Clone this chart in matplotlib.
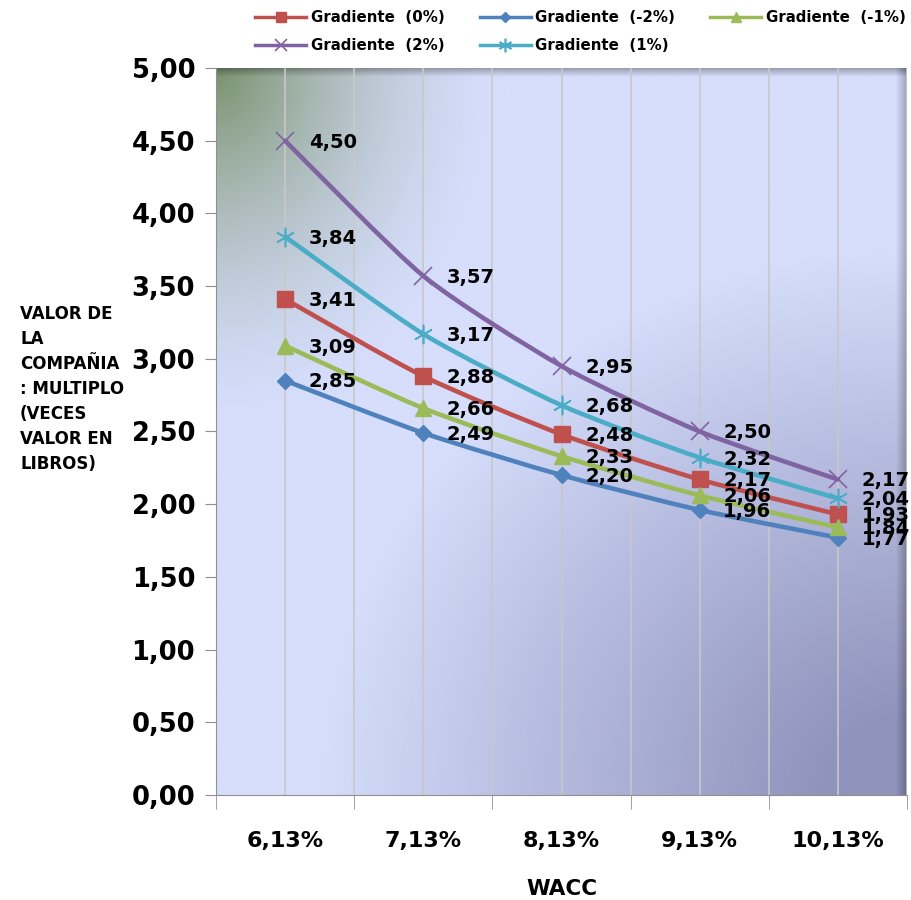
import numpy as np
import matplotlib.pyplot as plt
from matplotlib.path import Path
from matplotlib.patches import PathPatch
from matplotlib.lines import Line2D

plt.rcParams['font.family'] = ['DejaVu Sans']
plt.rcParams['font.weight'] = 'bold'

# WACC scenarios and book-value multiples per growth gradient
wacc = ["6,13%", "7,13%", "8,13%", "9,13%", "10,13%"]
g_0 = [3.41, 2.88, 2.48, 2.17, 1.93]
g_m2 = [2.85, 2.49, 2.20, 1.96, 1.77]
g_m1 = [3.09, 2.66, 2.33, 2.06, 1.84]
g_p2 = [4.50, 3.57, 2.95, 2.50, 2.17]
g_p1 = [3.84, 3.17, 2.68, 2.32, 2.04]

series = [
    ("Gradiente  (0%)", g_0, "#c0504d", "s", 11),
    ("Gradiente  (-2%)", g_m2, "#4f81bd", "D", 8),
    ("Gradiente  (-1%)", g_m1, "#9bbb59", "^", 11),
    ("Gradiente  (2%)", g_p2, "#8064a2", "x", 13),
    ("Gradiente  (1%)", g_p1, "#4bacc6", (6, 2, 0), 14),
]


def smooth_path(x, y, k=1 / 9):
    # cubic bezier through the points (catmull-rom style handles)
    verts = [(x[0], y[0])]
    codes = [Path.MOVETO]
    n = len(x)
    for i in range(n - 1):
        x0, y0 = (x[i - 1], y[i - 1]) if i > 0 else (x[i], y[i])
        x3, y3 = (x[i + 2], y[i + 2]) if i + 2 < n else (x[i + 1], y[i + 1])
        c1 = (x[i] + (x[i + 1] - x0) * k, y[i] + (y[i + 1] - y0) * k)
        c2 = (x[i + 1] - (x3 - x[i]) * k, y[i + 1] - (y3 - y[i]) * k)
        verts += [c1, c2, (x[i + 1], y[i + 1])]
        codes += [Path.CURVE4] * 3
    return Path(verts, codes)


fig = plt.figure(figsize=(9.11, 9.0), dpi=100)
ax = fig.add_axes([216 / 911, 1 - 795 / 900, 691 / 911, 727 / 900])

# background fill: light blue, greenish glow top-left, dusky blue bottom-right
h, w = 400, 400
r, c = np.mgrid[0:1:h * 1j, 0:1:w * 1j]
base = np.array([214, 222, 252]) / 255
tl = np.array([122, 146, 108]) / 255
br = np.array([144, 147, 188]) / 255
d_tl = np.sqrt((c / 0.42) ** 2 + (r / 0.5) ** 2)
d_br = np.sqrt(((1 - c) / 0.85) ** 2 + ((1 - r) / 0.75) ** 2)
wt = np.clip(1 - d_tl, 0, 1) ** 1.6
wb = np.clip(1 - d_br, 0, 1) ** 0.95
wb = np.clip(wb * 1.15, 0, 1)
wb = np.minimum(wb, 1 - wt)
img = base * (1 - wt - wb)[..., None] + tl * wt[..., None] + br * wb[..., None]
shade = np.clip((c - 0.985) / 0.015, 0, 1) * 0.25 + np.clip((0.012 - r) / 0.012, 0, 1) * 0.3
img = img * (1 - shade[..., None])
ax.imshow(img, extent=[-0.5, 4.5, 0, 5], aspect='auto', zorder=0)

x = np.arange(len(wacc))
for xv in np.arange(-0.5, 4.6, 0.5):
    ax.axvline(xv, color="#c8c8c8", lw=1.2, zorder=1)

handles = []
for label, vals, color, mk, ms in series:
    ax.add_patch(PathPatch(smooth_path(x, vals), fill=False, edgecolor=color, lw=3.3,
                           capstyle='round', zorder=3))
    mew = 1.2 if mk in ("x", (6, 2, 0)) else 1
    ax.plot(x, vals, ls='none', marker=mk, ms=ms, color=color, mec=color, mew=mew, zorder=4)
    for xi, v in zip(x, vals):
        ax.annotate(f"{v:.2f}".replace(".", ","), (xi, v), xytext=(17, -1),
                    textcoords='offset points', va='center', ha='left',
                    fontsize=14, fontweight='bold', zorder=5, annotation_clip=False)
    handles.append(Line2D([], [], color=color, lw=2.5, marker=mk, ms=ms * 0.7, mew=mew))

ax.set_xlim(-0.5, 4.5)
ax.set_ylim(0, 5)
ax.set_yticks(np.arange(0, 5.01, 0.5))
ax.set_yticklabels([f"{v:.2f}".replace(".", ",") for v in np.arange(0, 5.01, 0.5)],
                   fontsize=18.5, fontweight='bold')
ax.set_xticks(x)
ax.set_xticklabels(wacc, fontsize=16, fontweight='bold')
ax.set_xticks(np.arange(-0.5, 4.6, 1), minor=True)
ax.tick_params(axis='x', which='major', length=0, pad=26)
ax.tick_params(axis='x', which='minor', length=10, color="#909090")
ax.tick_params(axis='y', length=8, pad=7, color="#909090")
for sp in ("top", "right"):
    ax.spines[sp].set_visible(False)
for sp in ("left", "bottom"):
    ax.spines[sp].set_color("#909090")
ax.set_xlabel("WACC", fontsize=15.5, fontweight='bold', labelpad=20)

fig.text(20 / 911, 1 - 305 / 900,
         "VALOR DE\nLA\nCOMPAÑIA\n: MULTIPLO\n(VECES\nVALOR EN\nLIBROS)",
         fontsize=12, fontweight='bold', va='top', ha='left', linespacing=1.5)

order = [0, 3, 1, 4, 2]
fig.legend([handles[i] for i in order], [series[i][0] for i in order],
           loc='upper center', bbox_to_anchor=(0.637, 1.0035), ncol=3, frameon=False,
           fontsize=10.8, handlelength=3.4, columnspacing=2.35, handletextpad=0.3,
           labelspacing=0.85)

fig.savefig("out.png", dpi=100)
